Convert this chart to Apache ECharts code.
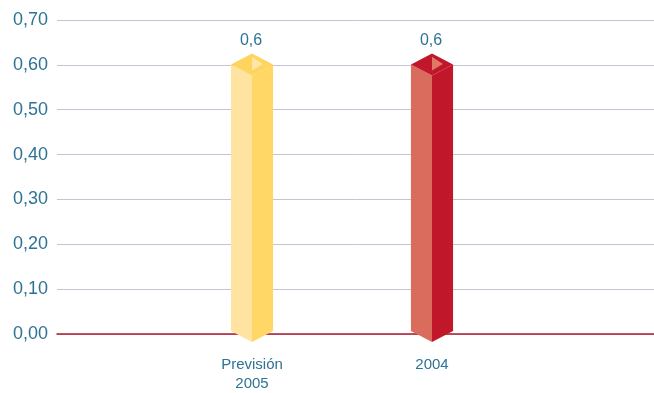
<!DOCTYPE html>
<html>
<head>
<meta charset="utf-8">
<script src="https://cdn.jsdelivr.net/npm/echarts@6/dist/echarts.min.js"></script>
<style>
  html, body { margin: 0; padding: 0; background: #ffffff; }
  #chart { width: 654px; height: 393px; }
</style>
</head>
<body>
<div id="chart"></div>
<script>
// Chart data
const categories = ['Previsión\n2005', '2004'];
const values = [0.6, 0.6];
const valueLabels = ['0,6', '0,6'];
const yTicks = ['0,00', '0,10', '0,20', '0,30', '0,40', '0,50', '0,60', '0,70'];

// Face colours of each prism: left, right, top, top marker
const prismColors = [
  { left: '#ffe3a0', right: '#ffd766', top: '#fed45e', mark: '#ffe6a6' },
  { left: '#d96c5d', right: '#c1172a', top: '#c1172a', mark: '#e07868' }
];

const textColor = '#2e7393';
const font = '"Liberation Sans", Arial, sans-serif';

function renderPrism(params, api) {
  const i = api.value(0);
  const v = api.value(1);
  const top = api.coord([i, v]);
  const base = api.coord([i, 0]);
  const band = api.size([1, 0])[0];
  const hw = band * 0.117;      // half width of the prism
  const d = hw * 0.52;          // depth offset of the top / bottom points
  const cx = top[0];
  const L = cx - hw, R = cx + hw;
  const yt = top[1], yb = base[1];
  const c = prismColors[params.dataIndex];
  return {
    type: 'group',
    children: [
      { type: 'polygon', shape: { points: [[L, yt], [cx, yt + d], [cx, yb + d], [L, yb]] },
        style: { fill: c.left } },
      { type: 'polygon', shape: { points: [[cx, yt + d], [R, yt], [R, yb], [cx, yb + d]] },
        style: { fill: c.right } },
      { type: 'polygon', shape: { points: [[L, yt], [cx, yt - d], [R, yt], [cx, yt + d]] },
        style: { fill: c.top } },
      { type: 'polygon', shape: { points: [[cx, yt - d * 0.7], [cx + hw * 0.52, yt - 0.5], [cx, yt + d * 0.55]] },
        style: { fill: c.mark } },
      { type: 'text',
        style: { text: valueLabels[params.dataIndex], x: cx - 1, y: yt - d - 13,
                 align: 'center', verticalAlign: 'middle',
                 fill: textColor, font: '16px ' + font } }
    ]
  };
}

const chart = echarts.init(document.getElementById('chart'), null, { renderer: 'canvas' });
chart.setOption({
  animation: false,
  backgroundColor: '#ffffff',
  grid: [
    { left: 57, right: 0, top: 20, bottom: 59 },
    { left: 162, width: 360, top: 20, bottom: 59 }
  ],
  xAxis: [
    { type: 'value', gridIndex: 0, min: 0, max: 1,
      axisLine: { show: true, lineStyle: { color: '#b3182c', width: 1.5 } },
      axisTick: { show: false }, axisLabel: { show: false }, splitLine: { show: false } },
    { type: 'category', gridIndex: 1, data: categories,
      axisLine: { show: false }, axisTick: { show: false }, splitLine: { show: false },
      axisLabel: { color: textColor, fontSize: 15, fontFamily: font, lineHeight: 19, margin: 24 } }
  ],
  yAxis: [
    { type: 'value', gridIndex: 0, min: 0, max: 0.7, interval: 0.1,
      axisLine: { show: false }, axisTick: { show: false },
      axisLabel: { color: textColor, fontSize: 18, fontFamily: font, margin: 9,
                   formatter: (v) => yTicks[Math.round(v * 10)] },
      splitLine: { lineStyle: { color: '#c3c3d3', width: 1 } } },
    { type: 'value', gridIndex: 1, min: 0, max: 0.7, show: false }
  ],
  series: [{
    type: 'custom',
    xAxisIndex: 1,
    yAxisIndex: 1,
    clip: false,
    z: 5,
    renderItem: renderPrism,
    data: values.map((v, i) => [i, v])
  }]
});
</script>
</body>
</html>
